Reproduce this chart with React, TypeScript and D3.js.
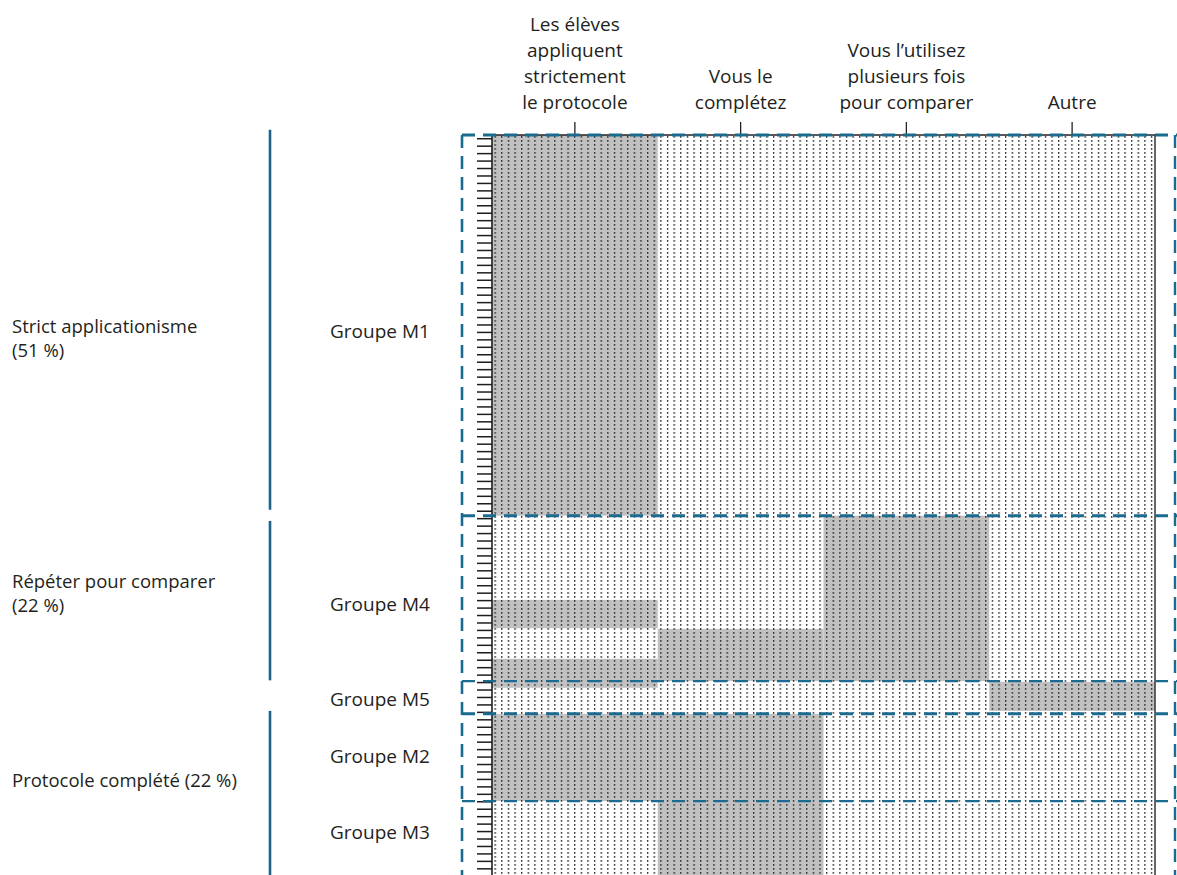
import React from "react";
import * as d3 from "d3";

const categories = ["c1", "c2", "c3", "c4"];
const categoryLines = [
  ["Les élèves", "appliquent", "strictement", "le protocole"],
  ["Vous le", "complétez"],
  ["Vous l’utilisez", "plusieurs fois", "pour comparer"],
  ["Autre"],
];
const groupNames = ["Groupe M1", "Groupe M4", "Groupe M5", "Groupe M2", "Groupe M3"];
const groupBounds = [0, 51.1, 73.3, 77.7, 89.4, 100];
const groupLabelPos = [26.3, 63.0, 75.8, 83.4, 93.6];

const familyLines = [["Strict applicationisme", "(51 %)"], ["Répéter pour comparer", "(22 %)"], ["Protocole complété (22 %)"]];
const familyStart = [-0.7, 51.8, 77.3];
const familyEnd = [50.3, 73.2, 100];
const familyLabelPos = [27.3, 61.5, 86.6];

const cellCol = [0, 2, 0, 1, 0, 3, 0, 1, 1];
const cellStart = [0, 51.1, 62.4, 66.3, 70.3, 73.4, 77.7, 77.7, 89.4];
const cellEnd = [51.1, 73.3, 66.2, 73.3, 74.2, 77.3, 89.4, 89.4, 100];

const rowTicks = d3.range(0, 100).map((i) => i + 0.5);

const W = 1177;
const H = 875;
const FONT = "'Open Sans', sans-serif";
const BLUE = "#1b6a90";
const TXT = "#231f20";

export default function App() {
  const x = d3.scaleBand<string>().domain(categories).range([492, 1155]).padding(0);
  const y = d3.scaleLinear().domain([0, 100]).range([135, 880]);
  const bw = x.bandwidth();
  const left = 492;
  const right = 1155;
  const dash = "13 8";
  const thick = [true, true, false, true, false, true];

  return (
    <svg width={W} height={H} style={{ position: "absolute", left: 0, top: 0, background: "#fff" }} fontFamily={FONT}>
      <defs>
        <pattern id="dots" patternUnits="userSpaceOnUse" x={left + 2.5} y={136} width={bw / 25} height={4}>
          <rect x={0} y={0} width={1.3} height={1.8} fill="#2a2a2a" />
        </pattern>
        <clipPath id="plotclip">
          <rect x={left} y={y(0)} width={right - left} height={y(100) - y(0)} />
        </clipPath>
      </defs>

      {/* column headers */}
      {categories.map((c, i) => {
        const lines = categoryLines[i];
        const cx = (x(c) as number) + bw / 2;
        return (
          <g key={c}>
            {lines.map((t, j) => (
              <text key={j} x={cx} y={109 - (lines.length - 1 - j) * 26} textAnchor="middle" fontSize={19} fill={TXT}>
                {t}
              </text>
            ))}
            <line x1={cx} x2={cx} y1={122} y2={135} stroke="#222" strokeWidth={1.3} />
          </g>
        );
      })}

      {/* plot */}
      <g clipPath="url(#plotclip)">
        <rect x={left} y={y(0)} width={right - left} height={y(100) - y(0)} fill="#fff" />
        {cellCol.map((ci, i) => (
          <rect
            key={i}
            x={x(categories[ci]) as number}
            y={y(cellStart[i])}
            width={bw}
            height={y(cellEnd[i]) - y(cellStart[i])}
            fill="#c1c1c1"
          />
        ))}
        <rect x={left} y={y(0)} width={right - left} height={y(100) - y(0)} fill="url(#dots)" />
      </g>

      {/* axes */}
      {rowTicks.map((t) => (
        <line key={t} x1={477} x2={left} y1={y(t)} y2={y(t)} stroke="#1e1e1e" strokeWidth={1.5} />
      ))}
      <line x1={left} x2={left} y1={y(0)} y2={H} stroke="#1e1e1e" strokeWidth={1.6} />
      <line x1={right} x2={right} y1={y(0)} y2={H} stroke="#333" strokeWidth={1.5} />
      <line x1={left} x2={right} y1={y(0)} y2={y(0)} stroke="#222" strokeWidth={1.3} />

      {/* dashed group frames */}
      <line x1={462} x2={462} y1={y(0)} y2={H + 10} stroke={BLUE} strokeWidth={2.6} strokeDasharray={dash} />
      <line x1={1175} x2={1175} y1={y(0)} y2={H + 10} stroke={BLUE} strokeWidth={2.4} strokeDasharray={dash} />
      {groupBounds.slice(0, -1).map((b, i) => (
        <line
          key={i}
          x1={462}
          x2={i === 0 ? 1177 : 1190}
          y1={y(b)}
          y2={y(b)}
          stroke={BLUE}
          strokeWidth={thick[i] ? 3 : 2.2}
          strokeDasharray={dash}
        />
      ))}

      {/* group labels */}
      {groupNames.map((g, i) => (
        <text key={g} x={330} y={y(groupLabelPos[i])} dy="0.35em" fontSize={19} fill={TXT}>
          {g}
        </text>
      ))}

      {/* families */}
      {familyLines.map((lines, i) => (
        <g key={i}>
          <line x1={270} x2={270} y1={y(familyStart[i])} y2={Math.min(y(familyEnd[i]), H + 5)} stroke="#1d6389" strokeWidth={2.6} />
          {lines.map((t, j) => (
            <text
              key={j}
              x={12}
              y={y(familyLabelPos[i]) + (j - (lines.length - 1) / 2) * 24}
              dy="0.35em"
              fontSize={18.5}
              fill={TXT}
            >
              {t}
            </text>
          ))}
        </g>
      ))}
    </svg>
  );
}
